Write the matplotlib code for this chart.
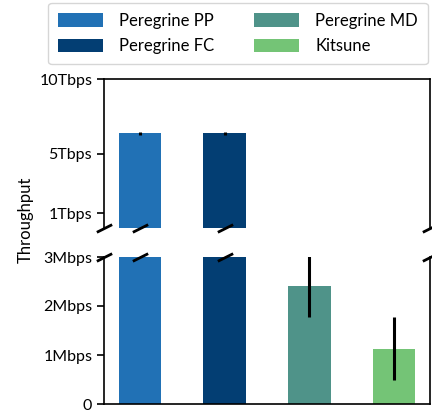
import numpy as np
import matplotlib.pyplot as plt
import matplotlib.transforms as mtransforms

plt.rcParams['font.family'] = ['Lato', 'DejaVu Sans']

labels = ['Peregrine PP', 'Peregrine FC', 'Peregrine MD', 'Kitsune']
colors = ['#2171b5', '#033e73', '#4f9389', '#74c476']
# throughput in bps
values = [6.35e12, 6.35e12, 2.4e6, 1.13e6]
errors = [0.12e12, 0.12e12, 0.62e6, 0.65e6]

top_ticks = [1e12, 5e12, 10e12]
top_ticklabels = ['1Tbps', '5Tbps', '10Tbps']
bot_ticks = [0, 1e6, 2e6, 3e6]
bot_ticklabels = ['0', '1Mbps', '2Mbps', '3Mbps']

W, H = 432, 413
fig = plt.figure(figsize=(W / 100, H / 100), dpi=100)
left, right = 104 / W, 430 / W
ax_top = fig.add_axes([left, 1 - 228 / H, right - left, (228 - 79) / H])
ax_bot = fig.add_axes([left, 1 - 404 / H, right - left, (404 - 257) / H])

x = np.arange(len(labels))
for ax in (ax_top, ax_bot):
    for i in range(len(labels)):
        ax.bar(x[i], values[i], width=0.5, color=colors[i], label=labels[i])
        ax.errorbar(x[i], values[i], yerr=errors[i], color='black', lw=2.2)
    ax.set_xticks([])
    ax.tick_params(axis='y', labelsize=11.5, length=5, width=1.2)
    for s in ax.spines.values():
        s.set_linewidth(1.2)

ax_top.set_ylim(0, 10e12)
ax_top.set_yticks(top_ticks)
ax_top.set_yticklabels(top_ticklabels)
ax_top.spines['bottom'].set_visible(False)

ax_bot.set_ylim(0, 3e6)
ax_bot.set_yticks(bot_ticks)
ax_bot.set_yticklabels(bot_ticklabels)
ax_bot.spines['top'].set_visible(False)

# break marks
d = 0.5
kw = dict(marker=[(-1, -d), (1, d)], markersize=11, linestyle='none',
          color='k', mec='k', mew=2.0, clip_on=False)
for ax, yv in ((ax_top, 0), (ax_bot, 1)):
    ax.plot([0, 1], [yv, yv], transform=ax.transAxes, **kw)
    tr = mtransforms.blended_transform_factory(ax.transData, ax.transAxes)
    ax.plot(x[:2], [yv, yv], transform=tr, **kw)

fig.text(26 / W, 1 - 220 / H, 'Throughput', rotation=90, ha='center',
         va='center', fontsize=12)

handles, lbls = ax_bot.get_legend_handles_labels()
fig.legend(handles, lbls, ncol=2, loc='upper center',
           bbox_to_anchor=(238 / W, 1 - 3 / H), borderaxespad=0,
           fontsize=12, handlelength=2.7, handleheight=0.9,
           handletextpad=0.95, columnspacing=2.4, borderpad=0.6,
           labelspacing=0.55, edgecolor='#cccccc', fancybox=True)

fig.savefig('out.png', dpi=100)
